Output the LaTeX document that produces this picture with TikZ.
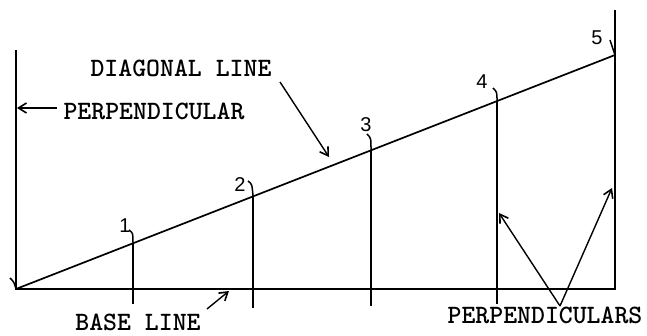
\documentclass[tikz,border=0pt]{standalone}
\usepackage{fontspec}
\newfontfamily\numfont{Liberation Sans}
\usetikzlibrary{arrows.meta}
\tikzset{
  lbl/.style={font=\ttfamily\bfseries\fontsize{26.5}{26.5}\selectfont, inner sep=0pt},
  num/.style={font=\numfont\fontsize{20}{20}\selectfont, inner sep=0pt},
  ln/.style={line width=1.7pt},
  tick/.style={line width=1.5pt},
  arr/.style={line width=1.4pt, -{Straight Barb[length=8pt,width=10pt,line width=1.6pt]}}
}
\begin{document}
\begin{tikzpicture}[x=1pt,y=-1pt]
\useasboundingbox (0,0) rectangle (647,336);
% main frame
\coordinate (O) at (16,289);
\coordinate (LT) at (16,50);
\coordinate (RB) at (615,289);
\coordinate (RT) at (615,10);
\coordinate (D5) at (615,55);
\draw[ln] (LT) -- (O) -- (RB) -- (RT);
\draw[ln] (O) -- (D5);
% perpendiculars
\coordinate (D1) at (133,243);
\coordinate (B1) at (133,304);
\coordinate (D2) at (253,196);
\coordinate (B2) at (253,308);
\coordinate (D3) at (371,150);
\coordinate (B3) at (371,306);
\coordinate (D4) at (497,101);
\coordinate (B4) at (497,304);
\draw[ln] (D1) -- (B1);
\draw[ln] (D2) -- (B2);
\draw[ln] (D3) -- (B3);
\draw[ln] (D4) -- (B4);
% ticks
\coordinate (T0) at (10,278);
\coordinate (T1) at (129,230);
\coordinate (T2) at (248,181);
\coordinate (T3) at (367,134);
\coordinate (T4) at (493,88);
\coordinate (T5) at (610,40);
\draw[tick] (T0) .. controls (14,282) .. (O);
\draw[tick] (T1) .. controls (133,233) .. (D1);
\draw[tick] (T2) .. controls (252,184) .. (D2);
\draw[tick] (T3) .. controls (371,138) .. (D3);
\draw[tick] (T4) .. controls (497,92) .. (D4);
\draw[tick] (T5) -- (D5);
% numbers
\node[num] (n1) at (125,226) {1};
\node[num] (n2) at (240,185) {2};
\node[num] (n3) at (366,125) {3};
\node[num] (n4) at (482,82) {4};
\node[num] (n5) at (597,38) {5};
% labels
\node[lbl] (diag) at (181,68) {DIAGONAL LINE};
\node[lbl] (perp) at (154,111) {PERPENDICULAR};
\node[lbl] (base) at (138,322) {BASE LINE};
\node[lbl] (perps) at (545,315) {PERPENDICULARS};
% arrows
\coordinate (dA) at (280,82);
\coordinate (dH) at (329,157);
\draw[arr] (dA) -- (dH);
\coordinate (pA) at (57,108);
\coordinate (pH) at (17,108);
\draw[arr] (pA) -- (pH);
\coordinate (bA) at (207,309);
\coordinate (bH) at (229,291);
\draw[arr] (bA) -- (bH);
\coordinate (vA) at (560,306);
\coordinate (vH1) at (499,213);
\coordinate (vH2) at (612,188);
\draw[arr] (vA) -- (vH1);
\draw[arr] (vA) -- (vH2);
\end{tikzpicture}
\end{document}
